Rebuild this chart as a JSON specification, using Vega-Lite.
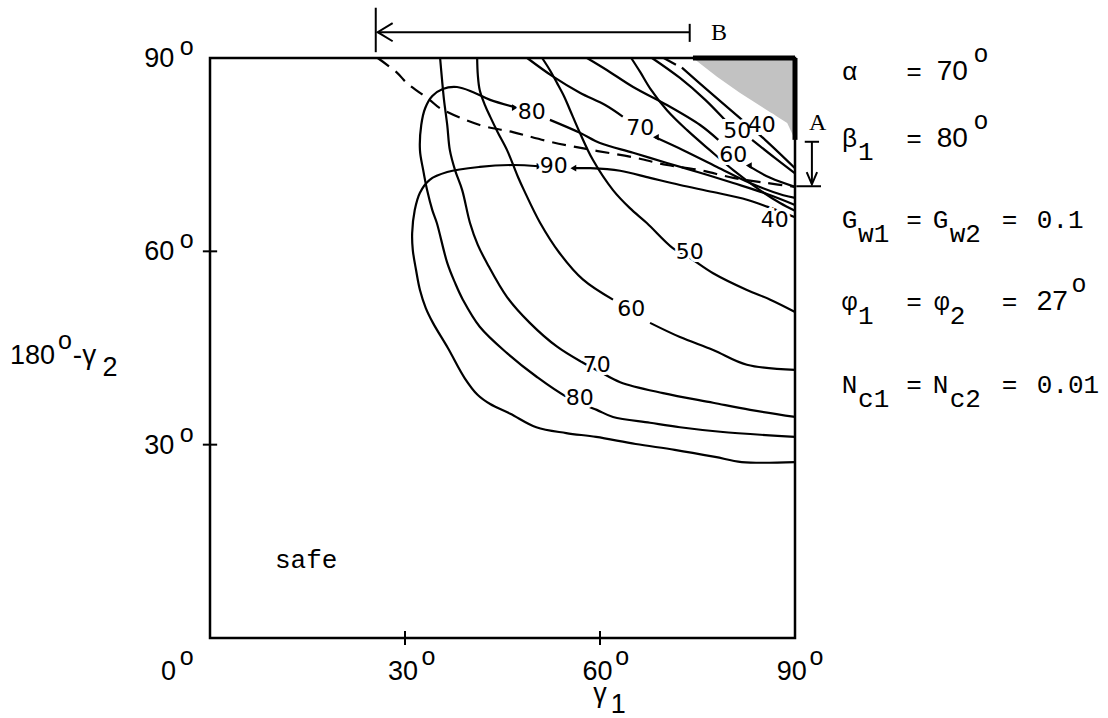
{
"$schema":"https://vega.github.io/schema/vega-lite/v6.json",
"width":585,"height":580,
"autosize":{"type":"none"},
"padding":{"left":210,"top":58,"right":313,"bottom":80},
"background":"white",
"config":{"view":{"stroke":"black","strokeWidth":2.5}},
"datasets":{
"shade":[{"x":74.3,"y":90},{"x":78.0,"y":87.1},{"x":81.5,"y":84.6},{"x":85.7,"y":81.9},{"x":88.8,"y":79.9},{"x":90,"y":77.3}],
"heavy":[{"id":"t","x":74.3,"y":90},{"id":"t","x":90,"y":90},{"id":"r","x":90,"y":90},{"id":"r","x":90,"y":77.3}],
"solid":[
{"id":"90a","x":90,"y":65.3},{"id":"90a","x":85.8,"y":66.9},{"id":"90a","x":82.6,"y":68.0},{"id":"90a","x":77.4,"y":69.2},{"id":"90a","x":72.3,"y":70.3},{"id":"90a","x":67.7,"y":71.4},{"id":"90a","x":63.1,"y":72.5},{"id":"90a","x":58.5,"y":72.9},{"id":"90a","x":56.0,"y":72.9},
{"id":"90b","x":50.6,"y":73.2},{"id":"90b","x":46.6,"y":73.4},{"id":"90b","x":41.5,"y":73.1},{"id":"90b","x":36.5,"y":72.3},{"id":"90b","x":33.8,"y":71.1},{"id":"90b","x":32.3,"y":69.1},{"id":"90b","x":31.5,"y":66.4},{"id":"90b","x":31.1,"y":62.8},{"id":"90b","x":31.2,"y":60.2},{"id":"90b","x":31.7,"y":57.1},{"id":"90b","x":32.3,"y":54.0},{"id":"90b","x":33.2,"y":51.2},{"id":"90b","x":34.3,"y":48.9},{"id":"90b","x":36.6,"y":45.0},{"id":"90b","x":39.2,"y":40.3},{"id":"90b","x":41.2,"y":37.7},{"id":"90b","x":43.1,"y":36.3},{"id":"90b","x":46.2,"y":34.8},{"id":"90b","x":50.2,"y":32.7},{"id":"90b","x":54.8,"y":31.8},{"id":"90b","x":59.4,"y":31.2},{"id":"90b","x":65.5,"y":30.1},{"id":"90b","x":71.5,"y":29.2},{"id":"90b","x":77.7,"y":28.1},{"id":"90b","x":81.8,"y":27.3},{"id":"90b","x":90,"y":27.3},
{"id":"80a","x":90,"y":67.2},{"id":"80a","x":85.7,"y":68.9},{"id":"80a","x":80.5,"y":70.6},{"id":"80a","x":75.4,"y":72.2},{"id":"80a","x":70.3,"y":73.7},{"id":"80a","x":65.1,"y":75.3},{"id":"80a","x":60.0,"y":76.8},{"id":"80a","x":56.9,"y":78.4},{"id":"80a","x":52.3,"y":80.4},
{"id":"80b","x":46.8,"y":82.4},{"id":"80b","x":43.1,"y":83.5},{"id":"80b","x":40.5,"y":84.7},{"id":"80b","x":38.0,"y":85.5},{"id":"80b","x":35.8,"y":85.2},{"id":"80b","x":34.2,"y":84.1},{"id":"80b","x":33.1,"y":82.2},{"id":"80b","x":32.5,"y":79.6},{"id":"80b","x":32.3,"y":75.7},{"id":"80b","x":32.8,"y":72.6},{"id":"80b","x":33.4,"y":69.5},{"id":"80b","x":34.2,"y":66.4},{"id":"80b","x":34.9,"y":64.4},{"id":"80b","x":36.5,"y":58.2},{"id":"80b","x":37.7,"y":55.1},{"id":"80b","x":38.9,"y":52.5},{"id":"80b","x":41.5,"y":48.3},{"id":"80b","x":45.7,"y":44.2},{"id":"80b","x":50.3,"y":40.5},{"id":"80b","x":54.9,"y":37.4},{"id":"80b","x":59.5,"y":35.4},{"id":"80b","x":62.0,"y":34.3},{"id":"80b","x":67.7,"y":33.4},{"id":"80b","x":72.3,"y":32.7},{"id":"80b","x":78.5,"y":32.0},{"id":"80b","x":90,"y":31.2},
{"id":"70b","x":35.4,"y":90},{"id":"70b","x":35.7,"y":86.6},{"id":"70b","x":36.0,"y":83.5},{"id":"70b","x":36.5,"y":79.6},{"id":"70b","x":36.9,"y":75.7},{"id":"70b","x":37.7,"y":72.6},{"id":"70b","x":38.8,"y":69.5},{"id":"70b","x":40.0,"y":64.4},{"id":"70b","x":41.2,"y":61.0},{"id":"70b","x":42.6,"y":58.2},{"id":"70b","x":45.7,"y":52.9},{"id":"70b","x":49.2,"y":48.9},{"id":"70b","x":53.4,"y":45.2},{"id":"70b","x":57.4,"y":42.7},{"id":"70b","x":60.0,"y":41.3},{"id":"70b","x":63.1,"y":39.7},{"id":"70b","x":69.7,"y":38.0},{"id":"70b","x":77.4,"y":36.5},{"id":"70b","x":83.1,"y":35.4},{"id":"70b","x":90,"y":34.3},
{"id":"60b1","x":41.1,"y":90},{"id":"60b1","x":41.2,"y":87.4},{"id":"60b1","x":41.5,"y":85.0},{"id":"60b1","x":42.3,"y":82.7},{"id":"60b1","x":43.1,"y":80.9},{"id":"60b1","x":44.3,"y":78.4},{"id":"60b1","x":45.7,"y":75.7},{"id":"60b1","x":47.4,"y":71.5},{"id":"60b1","x":48.3,"y":69.5},{"id":"60b1","x":50.8,"y":64.4},{"id":"60b1","x":53.8,"y":59.7},{"id":"60b1","x":57.4,"y":55.6},{"id":"60b1","x":62.0,"y":52.5},
{"id":"60b2","x":67.7,"y":48.9},{"id":"60b2","x":72.3,"y":46.7},{"id":"60b2","x":77.4,"y":44.7},{"id":"60b2","x":82.6,"y":42.4},{"id":"60b2","x":90,"y":41.6},
{"id":"50b","x":51.1,"y":90},{"id":"50b","x":52.3,"y":88.1},{"id":"50b","x":53.4,"y":86.1},{"id":"50b","x":54.5,"y":84.0},{"id":"50b","x":55.4,"y":81.9},{"id":"50b","x":56.9,"y":78.4},{"id":"50b","x":58.9,"y":74.2},{"id":"50b","x":62.0,"y":69.5},{"id":"50b","x":64.6,"y":66.7},{"id":"50b","x":67.2,"y":64.4},{"id":"50b","x":71.2,"y":60.5},{"id":"50b","x":73.8,"y":59.0},{"id":"50b","x":77.4,"y":56.6},{"id":"50b","x":82.6,"y":54.0},{"id":"50b","x":86.2,"y":52.5},{"id":"50b","x":90,"y":50.6},
{"id":"40b","x":64.8,"y":90},{"id":"40b","x":66.2,"y":87.8},{"id":"40b","x":67.7,"y":85.3},{"id":"40b","x":70.3,"y":81.9},{"id":"40b","x":73.4,"y":78.8},{"id":"40b","x":76.9,"y":75.7},{"id":"40b","x":80.5,"y":72.6},{"id":"40b","x":84.6,"y":69.5},{"id":"40b","x":87.7,"y":67.5},{"id":"40b","x":90,"y":66.3},
{"id":"70t1","x":48.8,"y":90},{"id":"70t1","x":52.8,"y":87.1},{"id":"70t1","x":56.9,"y":84.6},{"id":"70t1","x":60.8,"y":82.7},{"id":"70t1","x":63.5,"y":80.9},
{"id":"70t2","x":68.5,"y":77.7},{"id":"70t2","x":72.8,"y":75.7},{"id":"70t2","x":78.0,"y":73.1},{"id":"70t2","x":83.1,"y":70.6},{"id":"70t2","x":88.2,"y":68.7},{"id":"70t2","x":90,"y":68.3},
{"id":"60t1","x":58.0,"y":90},{"id":"60t1","x":61.1,"y":88.1},{"id":"60t1","x":65.1,"y":85.5},{"id":"60t1","x":70.3,"y":82.7},{"id":"60t1","x":75.4,"y":79.6},{"id":"60t1","x":78.2,"y":77.3},
{"id":"60t2","x":82.8,"y":73.3},{"id":"60t2","x":86.2,"y":71.4},{"id":"60t2","x":90,"y":70.0},
{"id":"50t1","x":68.0,"y":90},{"id":"50t1","x":72.3,"y":86.9},{"id":"50t1","x":76.2,"y":83.5},{"id":"50t1","x":79.2,"y":80.4},
{"id":"50t2","x":83.4,"y":77.3},{"id":"50t2","x":86.9,"y":74.5},{"id":"50t2","x":90,"y":72.1},
{"id":"40t","x":72.6,"y":88.5},{"id":"40t","x":76.9,"y":84.7},{"id":"40t","x":81.5,"y":80.7},{"id":"40t","x":85.4,"y":77.3},{"id":"40t","x":90,"y":72.9}
],
"dashed":[
{"id":"d1","x":25.8,"y":90},{"id":"d1","x":28.8,"y":87.7},{"id":"d1","x":30.3,"y":86.1},{"id":"d1","x":33.8,"y":83.5},{"id":"d1","x":35.4,"y":82.2},{"id":"d1","x":41.5,"y":79.6},{"id":"d1","x":46.6,"y":78.5},{"id":"d1","x":52.3,"y":77.0},{"id":"d1","x":58.9,"y":75.7},{"id":"d1","x":65.1,"y":74.6},{"id":"d1","x":70.3,"y":73.4},{"id":"d1","x":75.4,"y":72.6},{"id":"d1","x":80.5,"y":71.4},{"id":"d1","x":85.7,"y":70.6},{"id":"d1","x":90,"y":70.0},
{"id":"d2","x":69.8,"y":90},{"id":"d2","x":72.3,"y":88.6}
],
"brackets":[
{"id":"Bv","x":25.5,"y":97.8},{"id":"Bv","x":25.5,"y":90.9},
{"id":"Bh","x":25.8,"y":94.0},{"id":"Bh","x":73.8,"y":94.0},
{"id":"Bt","x":73.8,"y":95.3},{"id":"Bt","x":73.8,"y":92.5},
{"id":"Ba","x":28.1,"y":95.4},{"id":"Ba","x":25.8,"y":94.0},{"id":"Ba","x":28.1,"y":92.6},
{"id":"At","x":91.5,"y":77.0},{"id":"At","x":93.7,"y":77.0},
{"id":"Av","x":92.6,"y":77.0},{"id":"Av","x":92.6,"y":70.4},
{"id":"Aa","x":91.8,"y":72.3},{"id":"Aa","x":92.6,"y":70.4},{"id":"Aa","x":93.4,"y":72.3},
{"id":"Ab","x":90.2,"y":70.1},{"id":"Ab","x":94.0,"y":70.1}
],
"ticks":[
{"x":30,"y":-1.1,"x2":30,"y2":1.1},{"x":60,"y":-1.1,"x2":60,"y2":1.1},
{"x":-1.1,"y":30,"x2":1.1,"y2":30},{"x":-1.1,"y":60,"x2":1.1,"y2":60}
],
"arrR":[{"x":46.9,"y":82.3},{"x":50.7,"y":73.2}],
"arrL":[{"x":55.9,"y":72.9},{"x":68.6,"y":77.7},{"x":82.9,"y":73.3}],
"clabels":[
{"t":"90","x":52.9,"y":73.2},{"t":"80","x":49.5,"y":81.6},{"t":"80","x":56.9,"y":37.2},{"t":"70","x":59.5,"y":42.4},{"t":"60","x":64.8,"y":51.1},{"t":"50","x":73.8,"y":59.9},{"t":"40","x":86.9,"y":64.9},{"t":"70","x":66.2,"y":79.2},{"t":"60","x":80.5,"y":75.0},{"t":"50","x":81.1,"y":78.7},{"t":"40","x":84.9,"y":79.6}
],
"sansC":[
{"t":"0","x":-6.4,"y":-6.5},{"t":"30","x":29.7,"y":-6.5},{"t":"60","x":59.6,"y":-6.5},{"t":"90","x":89.5,"y":-6.5},
{"t":"90","x":-7.8,"y":88.6},{"t":"60","x":-7.8,"y":58.7},{"t":"30","x":-7.8,"y":28.6},
{"t":"180","x":-27.3,"y":42.5},{"t":"2","x":-15.4,"y":40.7},
{"t":"γ","x":60.0,"y":-10.0},{"t":"1","x":62.8,"y":-11.6}
],
"sups":[
{"t":"o","x":-3.6,"y":-4.2},{"t":"o","x":33.6,"y":-4.2},{"t":"o","x":63.4,"y":-4.2},{"t":"o","x":93.3,"y":-4.2},
{"t":"o","x":-3.6,"y":90.5},{"t":"o","x":-3.6,"y":60.5},{"t":"o","x":-3.6,"y":30.4},{"t":"o","x":-22.3,"y":44.8},
{"t":"o","x":118.6,"y":89.4},{"t":"o","x":118.6,"y":79.0},{"t":"o","x":133.7,"y":53.7}
],
"sansL":[
{"t":"-γ","x":-21.1,"y":42.5},{"t":"70","x":111.8,"y":86.6},{"t":"80","x":111.8,"y":76.2},{"t":"27","x":127.2,"y":50.9}
],
"mono":[
{"t":"safe","x":10.0,"y":10.9},
{"t":"α","x":97.2,"y":86.6},{"t":"=","x":107.1,"y":86.6},
{"t":"β","x":97.2,"y":76.2},{"t":"1","x":99.7,"y":74.1},{"t":"=","x":107.1,"y":76.2},
{"t":"G","x":97.2,"y":63.6},{"t":"w1","x":99.7,"y":61.5},{"t":"=","x":107.1,"y":63.6},{"t":"G","x":111.2,"y":63.6},{"t":"w2","x":113.8,"y":61.5},{"t":"=","x":121.8,"y":63.6},{"t":"0.1","x":127.2,"y":63.6},
{"t":"φ","x":97.2,"y":50.9},{"t":"1","x":99.7,"y":48.7},{"t":"=","x":107.1,"y":50.9},{"t":"φ","x":111.4,"y":50.9},{"t":"2","x":113.8,"y":48.7},{"t":"=","x":121.8,"y":50.9},
{"t":"N","x":97.2,"y":38.0},{"t":"c1","x":99.7,"y":35.8},{"t":"=","x":107.1,"y":38.0},{"t":"N","x":111.2,"y":38.0},{"t":"c2","x":113.8,"y":35.8},{"t":"=","x":121.8,"y":38.0},{"t":"0.01","x":127.2,"y":38.0}
],
"serif":[{"t":"A","x":93.5,"y":78.8},{"t":"B","x":78.3,"y":92.8}]
},
"encoding":{
"x":{"field":"x","type":"quantitative","scale":{"domain":[0,90],"nice":false,"zero":false},"axis":null},
"y":{"field":"y","type":"quantitative","scale":{"domain":[0,90],"nice":false,"zero":false},"axis":null}
},
"layer":[
{"data":{"name":"shade"},"mark":{"type":"area","color":"#c2c2c2"},"encoding":{"y2":{"datum":90}}},
{"data":{"name":"heavy"},"mark":{"type":"line","color":"black","strokeWidth":5},"encoding":{"detail":{"field":"id"},"order":{"value":null}}},
{"data":{"name":"solid"},"mark":{"type":"line","color":"black","strokeWidth":2.2,"interpolate":"catmull-rom"},"encoding":{"detail":{"field":"id"},"order":{"value":null}}},
{"data":{"name":"dashed"},"mark":{"type":"line","color":"black","strokeWidth":2.2,"strokeDash":[14,8],"interpolate":"catmull-rom"},"encoding":{"detail":{"field":"id"},"order":{"value":null}}},
{"data":{"name":"brackets"},"mark":{"type":"line","color":"black","strokeWidth":2},"encoding":{"detail":{"field":"id"},"order":{"value":null}}},
{"data":{"name":"ticks"},"mark":{"type":"rule","color":"black","strokeWidth":2},"encoding":{"x2":{"field":"x2"},"y2":{"field":"y2"}}},
{"data":{"name":"arrR"},"mark":{"type":"point","shape":"triangle-right","filled":true,"size":45,"color":"black","opacity":1}},
{"data":{"name":"arrL"},"mark":{"type":"point","shape":"triangle-left","filled":true,"size":45,"color":"black","opacity":1}},
{"data":{"name":"clabels"},"mark":{"type":"text","font":"DejaVu Sans","fontSize":22,"color":"white","stroke":"white","strokeWidth":6,"align":"center","baseline":"middle"},"encoding":{"text":{"field":"t"}}},
{"data":{"name":"clabels"},"mark":{"type":"text","font":"DejaVu Sans","fontSize":22,"color":"black","align":"center","baseline":"middle"},"encoding":{"text":{"field":"t"}}},
{"data":{"name":"sansC"},"mark":{"type":"text","font":"Liberation Sans","fontSize":27,"color":"black","align":"center","baseline":"alphabetic"},"encoding":{"text":{"field":"t"}}},
{"data":{"name":"sups"},"mark":{"type":"text","font":"Liberation Sans","fontSize":25,"color":"black","align":"center","baseline":"alphabetic"},"encoding":{"text":{"field":"t"}}},
{"data":{"name":"sansL"},"mark":{"type":"text","font":"Liberation Sans","fontSize":28,"color":"black","align":"left","baseline":"alphabetic"},"encoding":{"text":{"field":"t"}}},
{"data":{"name":"mono"},"mark":{"type":"text","font":"Liberation Mono","fontSize":26,"color":"black","align":"left","baseline":"alphabetic"},"encoding":{"text":{"field":"t"}}},
{"data":{"name":"serif"},"mark":{"type":"text","font":"Liberation Serif","fontSize":24,"color":"black","align":"center","baseline":"alphabetic"},"encoding":{"text":{"field":"t"}}}
]
}
